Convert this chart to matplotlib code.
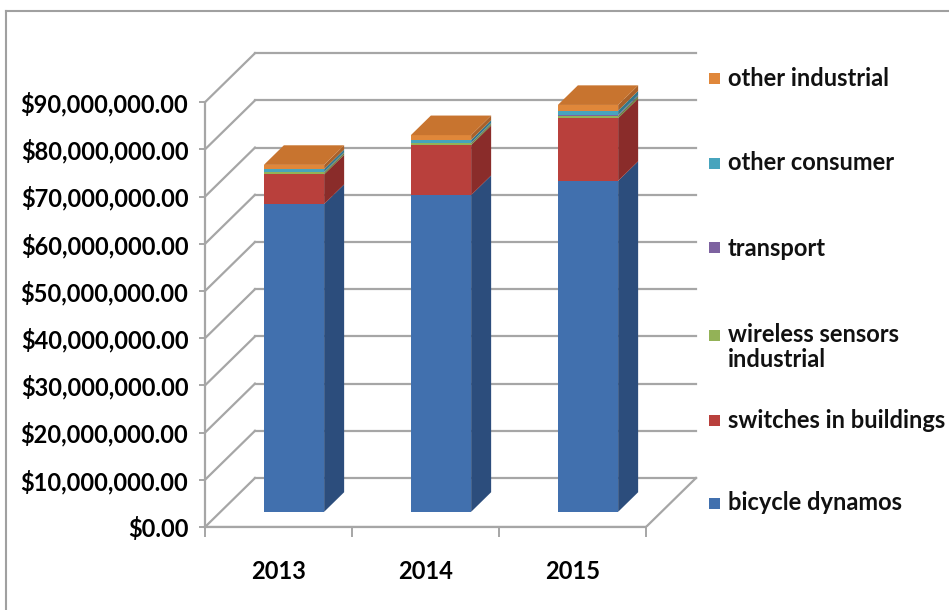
import numpy as np
import matplotlib
matplotlib.use('Agg')
import matplotlib.pyplot as plt
from matplotlib.patches import Polygon, Rectangle
from matplotlib.lines import Line2D
from matplotlib.ticker import FuncFormatter

years = ['2013', '2014', '2015']
series_names = ['bicycle dynamos', 'switches in buildings', 'wireless sensors\nindustrial',
                'transport', 'other consumer', 'other industrial']
bicycle_dynamos = [65.2e6, 67.1e6, 70.1e6]
switches_in_buildings = [6.3e6, 10.6e6, 13.3e6]
wireless_sensors_industrial = [0.4e6, 0.4e6, 0.5e6]
transport = [0.1e6, 0.1e6, 0.2e6]
other_consumer = [0.6e6, 0.6e6, 0.9e6]
other_industrial = [0.9e6, 1.0e6, 1.2e6]
series_values = [bicycle_dynamos, switches_in_buildings, wireless_sensors_industrial,
                 transport, other_consumer, other_industrial]

# (front, side, top) shades per series
shades = [('#4170AE', '#2C4D7C', '#5A86C0'),
          ('#B9403C', '#8A2C2A', '#C95955'),
          ('#93B257', '#6C853F', '#A8C46E'),
          ('#7D62A0', '#594676', '#957CB5'),
          ('#47A4BD', '#33788B', '#64B8CE'),
          ('#E0873A', '#A9612A', '#C8742F')]

plt.rcParams['font.family'] = ['Lato', 'DejaVu Sans']
plt.rcParams['font.weight'] = 'bold'
FS = 17
GRID = '#A6A6A6'

W_PX, H_PX = 949, 610
fig = plt.figure(figsize=(W_PX / 100, H_PX / 100), dpi=100)

# axes box in pixels: x=-0.5 sits at 205px, 147px per year, $0 at 527px
px_per_cat = 147.0
px_per_dollar = 4.72 / 1e6
ax_left, ax_right, ax_bottom, ax_top = 205, 720, 527, 30
ax = fig.add_axes([ax_left / W_PX, (H_PX - ax_bottom) / H_PX,
                   (ax_right - ax_left) / W_PX, (ax_bottom - ax_top) / H_PX])
ax.set_xlim(-0.5, -0.5 + (ax_right - ax_left) / px_per_cat)
ax.set_ylim(0, (ax_bottom - ax_top) / px_per_dollar)
ax.patch.set_alpha(0)

DX = 50 / px_per_cat       # depth shift in category units
DY = 49 / px_per_dollar    # depth shift in value units

# floor
x0, x1 = -0.5, 2.5
ax.plot([x0, x1], [0, 0], color=GRID, lw=1.6, zorder=1)
ax.plot([x1, x1 + DX], [0, DY], color=GRID, lw=1.6, zorder=1)

# side wall and back wall gridlines
for v in np.arange(0, 90e6 + 1, 10e6):
    ax.plot([x0, x0 + DX], [v, v + DY], color=GRID, lw=1.6, zorder=1)
    ax.plot([x0 + DX, x1 + DX], [v + DY, v + DY], color=GRID, lw=1.6, zorder=1)

# stacked 3D columns
d0, d1 = 0.31, 0.71
W = 0.41
xs = np.arange(len(years))
sx = (d1 - d0) * DX
bottoms = np.zeros(len(years))
for vals, (front, side, top) in zip(series_values, shades):
    vals = np.array(vals)
    ax.bar(xs + d0 * DX, vals, bottom=bottoms + d0 * DY, width=W,
           color=front, linewidth=0, zorder=3)
    for j in range(len(years)):
        xr = xs[j] + d0 * DX + W / 2
        b, t = bottoms[j], bottoms[j] + vals[j]
        ax.add_patch(Polygon([(xr, b + d0 * DY), (xr, t + d0 * DY),
                              (xr + sx, t + d1 * DY), (xr + sx, b + d1 * DY)],
                             closed=True, facecolor=side, edgecolor='none', zorder=3))
    bottoms = bottoms + vals

# top faces of the stacks
top_color = shades[-1][2]
for j in range(len(years)):
    xl = xs[j] + d0 * DX - W / 2
    xr = xl + W
    t = bottoms[j]
    ax.add_patch(Polygon([(xl, t + d0 * DY), (xr, t + d0 * DY),
                          (xr + sx, t + d1 * DY), (xl + sx, t + d1 * DY)],
                         closed=True, facecolor=top_color, edgecolor='none', zorder=4))

# axes styling
for s in ['top', 'right']:
    ax.spines[s].set_visible(False)
ax.spines['left'].set_bounds(0, 90e6)
ax.spines['left'].set_color(GRID)
ax.spines['left'].set_linewidth(1.6)

ax.set_yticks(np.arange(0, 90e6 + 1, 10e6))
ax.yaxis.set_major_formatter(FuncFormatter(lambda v, p: '${:,.2f}'.format(v)))
ax.tick_params(axis='y', direction='out', length=4, width=1.4, color=GRID,
               pad=8, labelsize=FS)

ax.set_xticks(xs)
ax.set_xticklabels(years)
ax.set_xticks([-0.5, 0.5, 1.5, 2.5], minor=True)
ax.tick_params(axis='x', which='major', length=0, pad=24, labelsize=FS)
ax.tick_params(axis='x', which='minor', direction='out', length=7, width=1.4, color=GRID)
ax.spines['bottom'].set_bounds(-0.5, 2.5)
ax.spines['bottom'].set_color(GRID)
ax.spines['bottom'].set_linewidth(1.6)

# legend, top entry first
legend_rows = [78, 163, 248, 347, 420, 503]
legend_marks = [78, 163, 248, 335, 420, 503]
for name, (front, _, _), yc, ym in zip(series_names[::-1], shades[::-1],
                                         legend_rows, legend_marks):
    fig.patches.append(Rectangle((709 / W_PX, 1 - (ym + 5.5) / H_PX), 11 / W_PX, 11 / H_PX,
                                 transform=fig.transFigure, facecolor=front,
                                 edgecolor='none'))
    fig.text(728 / W_PX, 1 - yc / H_PX, name, fontsize=FS, fontweight='bold',
             va='center', ha='left', color='#111111', linespacing=1.1)

# outer chart border
fig.add_artist(Line2D([6 / W_PX, 1], [1 - 11 / H_PX, 1 - 11 / H_PX],
                      transform=fig.transFigure, color='#A0A0A0', lw=1.5))
fig.add_artist(Line2D([6 / W_PX, 6 / W_PX], [0, 1 - 11 / H_PX],
                      transform=fig.transFigure, color='#A0A0A0', lw=1.5))

fig.savefig('out.png', dpi=100)
